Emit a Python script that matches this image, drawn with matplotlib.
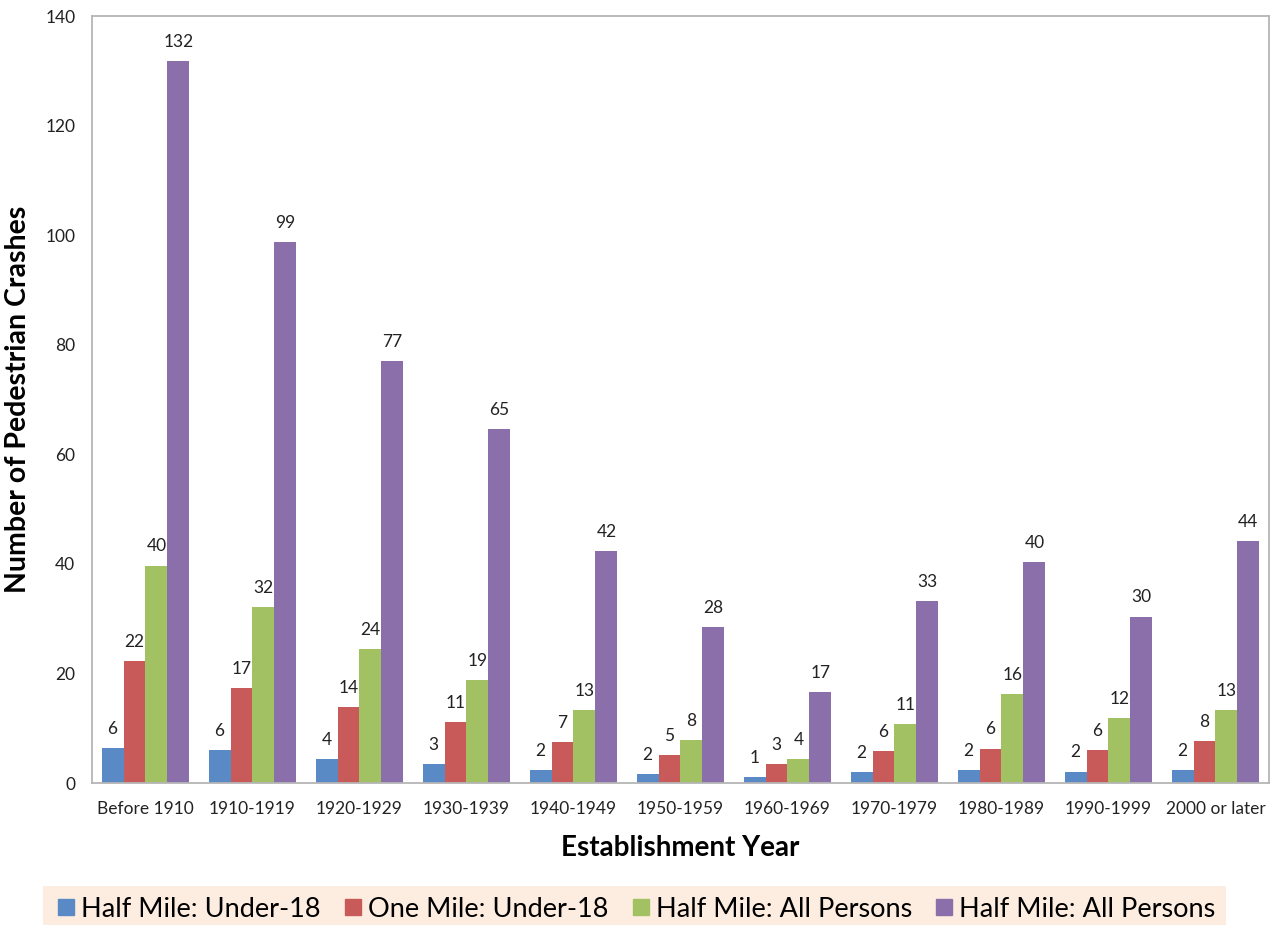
import numpy as np
import matplotlib
matplotlib.use("Agg")
import matplotlib.pyplot as plt
from matplotlib.lines import Line2D

plt.rcParams['font.family'] = ['Lato', 'DejaVu Sans']

years = ['Before 1910', '1910-1919', '1920-1929', '1930-1939', '1940-1949',
         '1950-1959', '1960-1969', '1970-1979', '1980-1989', '1990-1999',
         '2000 or later']

half_u18 = [6.4, 6.0, 4.4, 3.4, 2.3, 1.6, 1.1, 2.0, 2.4, 2.1, 2.4]
one_u18 = [22.2, 17.3, 13.9, 11.2, 7.4, 5.1, 3.4, 5.9, 6.3, 6.0, 7.6]
half_all = [39.7, 32.1, 24.4, 18.8, 13.4, 7.9, 4.4, 10.8, 16.3, 11.8, 13.4]
half_all2 = [131.8, 98.8, 77.0, 64.7, 42.4, 28.4, 16.6, 33.3, 40.3, 30.4, 44.2]

series = [half_u18, one_u18, half_all, half_all2]
names = ['Half Mile: Under-18', 'One Mile: Under-18',
         'Half Mile: All Persons', 'Half Mile: All Persons']
colors = ['#5A8AC6', '#C85A5A', '#A2C163', '#8B6FAB']

fig = plt.figure(figsize=(12.77, 9.25), dpi=100)
ax = fig.add_axes([0.072, 0.1535, 0.9217, 0.829])

x = np.arange(len(years))
w = 0.205
for i, (vals, c) in enumerate(zip(series, colors)):
    bars = ax.bar(x + (i - 1.5) * w, vals, w, color=c, zorder=2)
    ax.bar_label(bars, fmt='%.0f', padding=8, fontsize=12.5, color='#222222')

ax.set_xlim(-0.5, len(years) - 0.5)
ax.set_ylim(0, 140)
ax.set_yticks(range(0, 141, 20))
ax.set_xticks(x)
ax.set_xticklabels(years)
ax.tick_params(length=0, labelsize=12.5, colors='#222222')
ax.tick_params(axis='y', pad=12)
ax.tick_params(axis='x', pad=13)
for s in ax.spines.values():
    s.set_color('#B5B5B5')
    s.set_linewidth(1.3)

ax.set_ylabel('Number of Pedestrian Crashes', fontsize=20.5, fontweight='bold', labelpad=10)
ax.set_xlabel('Establishment Year', fontsize=20, fontweight='bold', labelpad=13)

handles = [Line2D([], [], marker='s', linestyle='none', markersize=11,
                  markerfacecolor=c, markeredgecolor=c) for c in colors]
leg = fig.legend(handles, names, ncol=4, loc='lower center',
                 bbox_to_anchor=(0.497, -0.014), fontsize=19.5, frameon=True,
                 fancybox=False, handletextpad=0.1, columnspacing=0.75,
                 borderpad=0.4, handlelength=0.9, borderaxespad=0.2)
leg.get_frame().set_facecolor('#FDE9D9')
leg.get_frame().set_edgecolor('none')

fig.savefig('out.png', dpi=100)
